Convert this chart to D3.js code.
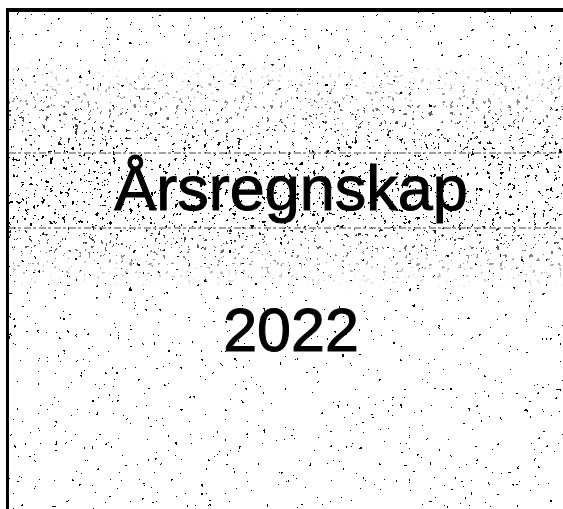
<!DOCTYPE html>
<html>
<head>
<meta charset="utf-8">
<script src="https://cdn.jsdelivr.net/npm/d3@7"></script>
<style>
  html, body { margin: 0; background: #fff; overflow: hidden; }
  svg { display: block; }
</style>
</head>
<body>
<div id="page"></div>
<script>
var width = 563,
    height = 509;

// the page texts, one per row
var titleLines = ["Årsregnskap", "2022"];
var rowCentres = [188, 330];

// scanned rules across the page (dash rows)
var ruleRows = ["upper", "lower"];
var ruleY = [153, 228];

var svg = d3.select("#page")
    .append("svg")
    .attr("width", width)
    .attr("height", height);

var defs = svg.append("defs");

// scan speckle, made with the svg turbulence filter
function speckle(id, freq, seed, cut) {
  var f = defs.append("filter")
      .attr("id", id)
      .attr("filterUnits", "userSpaceOnUse")
      .attr("x", -40).attr("y", -40)
      .attr("width", width + 80).attr("height", height + 80);
  f.append("feTurbulence")
      .attr("type", "fractalNoise")
      .attr("baseFrequency", freq)
      .attr("numOctaves", 3)
      .attr("seed", seed)
      .attr("result", "n");
  f.append("feColorMatrix")
      .attr("type", "matrix")
      .attr("values", "0 0 0 0 0  0 0 0 0 0  0 0 0 0 0  1 0 0 0 0");
  var tv = [];
  for (var i = 0; i < 40; i++) tv.push(i >= cut ? 1 : 0);
  f.append("feComponentTransfer")
      .append("feFuncA")
      .attr("type", "discrete")
      .attr("tableValues", tv.join(" "));
}
speckle("light", 0.24, 4, 31);
speckle("heavy", 0.24, 9, 28);

// only the top and left of the sheet are cut, the noise runs off the right and bottom
defs.append("clipPath").attr("id", "sheet")
  .append("rect")
    .attr("x", 9).attr("y", 12)
    .attr("width", width + 60).attr("height", height + 60);

var band = defs.append("mask").attr("id", "band")
    .attr("maskUnits", "userSpaceOnUse")
    .attr("x", -40).attr("y", -40).attr("width", width + 80).attr("height", height + 80);
var grad = defs.append("linearGradient")
    .attr("id", "bandFade")
    .attr("x1", 0).attr("y1", 0).attr("x2", 0).attr("y2", 1);
grad.append("stop").attr("offset", "0%").attr("stop-color", "#000");
grad.append("stop").attr("offset", "40%").attr("stop-color", "#fff");
grad.append("stop").attr("offset", "70%").attr("stop-color", "#fff");
grad.append("stop").attr("offset", "100%").attr("stop-color", "#000");
band.append("rect")
    .attr("x", -40).attr("y", 60)
    .attr("width", width + 80).attr("height", 230)
    .attr("fill", "url(#bandFade)");

var bg = svg.append("g").attr("clip-path", "url(#sheet)");

bg.append("rect")
    .attr("x", -40).attr("y", -40)
    .attr("width", width + 80).attr("height", height + 80)
    .attr("fill", "#fff")
    .attr("filter", "url(#light)");

bg.append("rect")
    .attr("x", -40).attr("y", -40)
    .attr("width", width + 80).attr("height", height + 80)
    .attr("fill", "#fff")
    .attr("filter", "url(#heavy)")
    .attr("mask", "url(#band)");

var y = d3.scalePoint()
    .domain(ruleRows)
    .range(ruleY);

svg.selectAll(".rule")
    .data(ruleRows)
  .enter().append("line")
    .attr("class", "rule")
    .attr("x1", 9)
    .attr("x2", width)
    .attr("y1", function(d) { return y(d); })
    .attr("y2", function(d) { return y(d); })
    .style("stroke", "#444")
    .style("stroke-width", 1.2)
    .style("stroke-dasharray", "7,2,3,3");

// frame: top and left edges of the scanned sheet
svg.append("rect")
    .attr("x", 6).attr("y", 8)
    .attr("width", width - 6).attr("height", 4)
    .attr("fill", "#000");
svg.append("rect")
    .attr("x", 6).attr("y", 8)
    .attr("width", 3).attr("height", height - 8)
    .attr("fill", "#000");

var rows = d3.scaleOrdinal()
    .domain(titleLines)
    .range(rowCentres);

svg.selectAll(".title")
    .data(titleLines)
  .enter().append("text")
    .attr("class", "title")
    .attr("x", 291)
    .attr("y", function(d) { return rows(d); })
    .attr("dy", "0.35em")
    .style("text-anchor", "middle")
    .style("font-family", "Arial, 'Liberation Sans', sans-serif")
    .style("font-size", function(d, i) { return i === 0 ? "63px" : "61px"; })
    .style("stroke", "#000")
    .style("stroke-width", 1)
    .style("fill", "#000")
    .text(function(d) { return d; });
</script>
</body>
</html>
